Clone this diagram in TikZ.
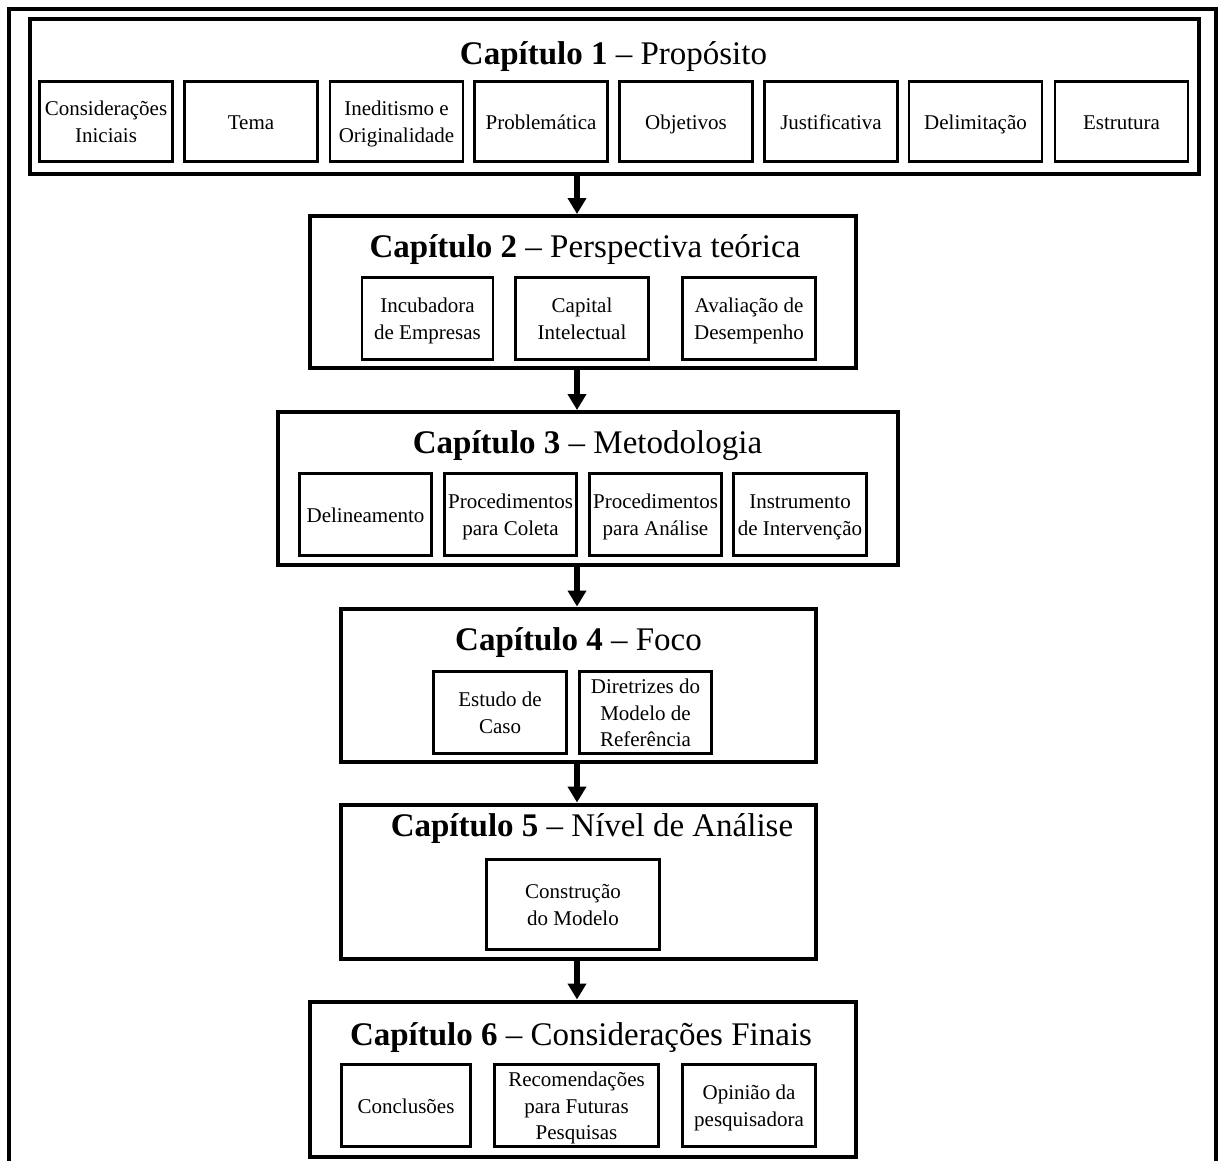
\documentclass[tikz,border=0pt]{standalone}
\usepackage{fontspec}
\setmainfont{Liberation Serif}
\usetikzlibrary{arrows.meta}

% one line of box text with a fixed strut, so boxes line up
\newcommand\bl[1]{#1\rule[-5.75pt]{0pt}{26.5pt}}

\tikzset{
  chapbox/.style={draw, line width=4pt, inner sep=0pt},
  subbox/.style={draw, line width=2.8pt, inner sep=0pt, align=center,
    minimum height=82pt, font=\fontsize{21}{26.5}\selectfont},
  ttl/.style={anchor=base, inner sep=0pt, font=\fontsize{33}{40}\selectfont},
  flow/.style={line width=6.5pt, -{Triangle[width=18pt,length=16pt]}},
  frame/.style={line width=4pt}
}

\begin{document}
\begin{tikzpicture}[x=1pt, y=-1pt]
\useasboundingbox (0,0) rectangle (1220,1160);
\clip (0,0) rectangle (1220,1160);

% open outer frame
\draw[frame] (9,1170) -- (9,9) -- (1216,9) -- (1216,1170);

% chapter containers
\node[chapbox, minimum width=1169pt, minimum height=155pt] (c1) at (614.5,96.5) {};
\node[chapbox, minimum width=546pt, minimum height=152pt] (c2) at (583,292) {};
\node[chapbox, minimum width=620pt, minimum height=153pt] (c3) at (588,488.5) {};
\node[chapbox, minimum width=475pt, minimum height=153pt] (c4) at (578,685) {};
\node[chapbox, minimum width=475pt, minimum height=154pt] (c5) at (578,881.5) {};
\node[chapbox, minimum width=546pt, minimum height=155pt] (c6) at (583,1079) {};

% chapter titles
\node[ttl] (t1) at (613.5,64) {\textbf{Capítulo 1} – Propósito};
\node[ttl] (t2) at (585,257) {\textbf{Capítulo 2} – Perspectiva teórica};
\node[ttl] (t3) at (587.5,453) {\textbf{Capítulo 3} – Metodologia};
\node[ttl] (t4) at (578.5,650) {\textbf{Capítulo 4} – Foco};
\node[ttl] (t5) at (592,836) {\textbf{Capítulo 5} – Nível de Análise};
\node[ttl] (t6) at (581,1045) {\textbf{Capítulo 6} – Considerações Finais};

% chapter 1 topics
\node[subbox, minimum width=133pt, minimum height=80pt] (a1) at (106,121.5) {\bl{Considerações}\\\bl{Iniciais}};
\node[subbox, minimum width=133pt, minimum height=80pt] (a2) at (251,121.5) {\bl{Tema}};
\node[subbox, minimum width=133pt, minimum height=80pt] (a3) at (396.5,121.5) {\bl{Ineditismo e}\\\bl{Originalidade}};
\node[subbox, minimum width=133pt, minimum height=80pt] (a4) at (541,121.5) {\bl{Problemática}};
\node[subbox, minimum width=133pt, minimum height=80pt] (a5) at (686,121.5) {\bl{Objetivos}};
\node[subbox, minimum width=133pt, minimum height=80pt] (a6) at (831,121.5) {\bl{Justificativa}};
\node[subbox, minimum width=133pt, minimum height=80pt] (a7) at (975.5,121.5) {\bl{Delimitação}};
\node[subbox, minimum width=133pt, minimum height=80pt] (a8) at (1121.5,121.5) {\bl{Estrutura}};

% chapter 2 topics
\node[subbox, minimum width=131pt] (b1) at (427.5,318.5) {\bl{Incubadora}\\\bl{de Empresas}};
\node[subbox, minimum width=133pt] (b2) at (582,318.5) {\bl{Capital}\\\bl{Intelectual}};
\node[subbox, minimum width=133pt] (b3) at (749,318.5) {\bl{Avaliação de}\\\bl{Desempenho}};

% chapter 3 topics
\node[subbox, minimum width=132pt] (m1) at (365.5,514.5) {\bl{Delineamento}};
\node[subbox, minimum width=132pt] (m2) at (510.5,514.5) {\bl{Procedimentos}\\\bl{para Coleta}};
\node[subbox, minimum width=132pt] (m3) at (655.5,514.5) {\bl{Procedimentos}\\\bl{para Análise}};
\node[subbox, minimum width=133pt] (m4) at (800,514.5) {\bl{Instrumento}\\\bl{de Intervenção}};

% chapter 4 topics
\node[subbox, minimum width=133pt] (f1) at (500,712.5) {\bl{Estudo de}\\\bl{Caso}};
\node[subbox, minimum width=132pt] (f2) at (645.5,712.5) {\bl{Diretrizes do}\\\bl{Modelo de}\\\bl{Referência}};

% chapter 5 topic
\node[subbox, minimum width=173pt, minimum height=90pt] (n1) at (573,904.5) {\bl{Construção}\\\bl{do Modelo}};

% chapter 6 topics
\node[subbox, minimum width=129pt] (e1) at (406,1105.5) {\bl{Conclusões}};
\node[subbox, minimum width=164pt] (e2) at (576.5,1105.5) {\bl{Recomendações}\\\bl{para Futuras}\\\bl{Pesquisas}};
\node[subbox, minimum width=133pt] (e3) at (749,1105.5) {\bl{Opinião da}\\\bl{pesquisadora}};

% flow between chapters
\coordinate (ax) at (577,0);
\draw[flow] (c1.south -| ax) -- (c2.north -| ax);
\draw[flow] (c2.south -| ax) -- (c3.north -| ax);
\draw[flow] (c3.south -| ax) -- (c4.north -| ax);
\draw[flow] (c4.south -| ax) -- (c5.north -| ax);
\draw[flow] (c5.south -| ax) -- (c6.north -| ax);
\end{tikzpicture}
\end{document}
